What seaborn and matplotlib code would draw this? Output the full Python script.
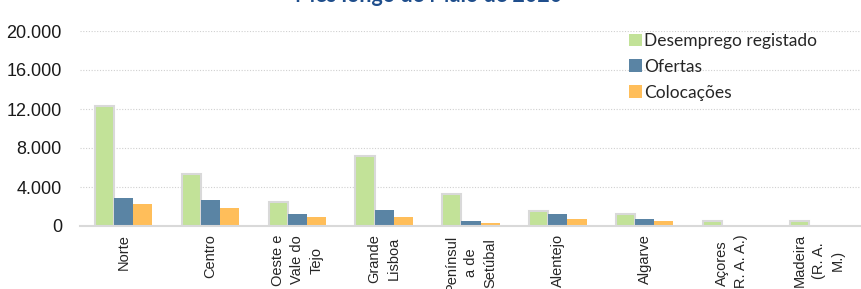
import pandas as pd
import matplotlib.pyplot as plt
import matplotlib.ticker as mticker
import seaborn as sns

regioes = ['Norte', 'Centro', 'Oeste e\nVale do\nTejo', 'Grande\nLisboa',
           'Penínsul\na de\nSetúbal', 'Alentejo', 'Algarve',
           'Açores\n(R. A. A.)', 'Madeira\n(R. A.\nM.)']
desemprego = [12300, 5330, 2470, 7220, 3270, 1550, 1270, 480, 550]
ofertas = [2920, 2650, 1270, 1680, 520, 1200, 720, 100, 120]
colocacoes = [2240, 1860, 960, 900, 340, 690, 480, 40, 40]
series = ['Desemprego registado', 'Ofertas', 'Colocações']
cores = ['#C2E298', '#5A84A4', '#FFBE5A']

df = pd.DataFrame({
    'regiao': regioes * 3,
    'serie': [s for s in series for _ in regioes],
    'valor': desemprego + ofertas + colocacoes,
})

sns.set_style('white')
plt.rcParams['font.family'] = ['Liberation Sans', 'DejaVu Sans']

fig = plt.figure(figsize=(8.62, 2.89), dpi=100)
ax = fig.add_axes([80 / 862, 1 - 226 / 289, 782 / 862, 195 / 289])

sns.barplot(data=df, x='regiao', y='valor', hue='serie', hue_order=series,
            palette=cores, width=0.66, saturation=1, ax=ax, linewidth=0)

# borda cinzenta nas barras verdes
for bar in ax.containers[0]:
    bar.set_edgecolor('#D9D9D9')
    bar.set_linewidth(1.5)

ax.set_ylim(0, 20000)
ax.set_xlim(-0.5, 8.5)
ax.set_yticks([0, 4000, 8000, 12000, 16000, 20000])
ax.yaxis.set_major_formatter(mticker.FuncFormatter(lambda v, p: f'{int(v):,}'.replace(',', '.')))
ax.grid(axis='y', color='#D0D0D0', linestyle=(0, (1, 1.5)), linewidth=0.8)
ax.set_axisbelow(True)
for s in ['left', 'right', 'top']:
    ax.spines[s].set_visible(False)
ax.spines['bottom'].set_color('#D9D9D9')
ax.spines['bottom'].set_linewidth(1.5)
ax.tick_params(axis='y', length=0, pad=13, labelsize=13, labelcolor='#1A1A1A')
ax.tick_params(axis='x', length=0, pad=6)
ax.set_xlabel('')
ax.set_ylabel('')
for lab in ax.get_xticklabels():
    lab.set_rotation(90)
    lab.set_fontsize(10.5)
    lab.set_linespacing(1.45)
    lab.set_multialignment('center')
    lab.set_va('top')
    lab.set_ha('center')

leg = ax.legend(loc='upper left', bbox_to_anchor=(622 / 862, 1 - 26 / 289),
                bbox_transform=fig.transFigure, frameon=False,
                handlelength=0.75, handleheight=0.75, handletextpad=0.1,
                labelspacing=0.57, borderaxespad=0,
                prop={'family': 'Lato', 'size': 12.5})

fig.text(429 / 862, 1 - 1.5 / 289, 'Mês longo de Maio de 2020', ha='center',
         va='baseline', fontsize=15.5, fontweight='bold', color='#1F4E8C',
         family='Lato')

fig.savefig('out.png', dpi=100)
